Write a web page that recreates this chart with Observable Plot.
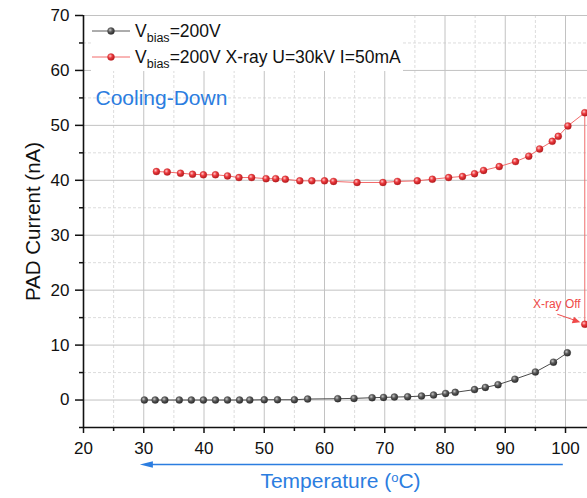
<!DOCTYPE html>
<html><head><meta charset="utf-8">
<script src="https://cdn.jsdelivr.net/npm/d3@7"></script>
<script src="https://cdn.jsdelivr.net/npm/@observablehq/plot@0.6"></script>
<style>html,body{margin:0;padding:0;background:#fff}svg{display:block}</style>
</head><body><div id="chart"></div>
<script>
// ---- data ----
const blackTemp = [30.1, 31.9, 33.5, 35.9, 37.9, 39.9, 41.9, 43.9, 45.9, 47.6, 50.0, 52.2, 55.0,
  57.2, 62.2, 64.9, 67.9, 69.8, 71.6, 73.8, 76.1, 78.1, 80.1, 81.7, 84.9, 86.7, 88.8, 91.6, 95.0, 98.0, 100.3];
const blackCur = [0, 0, 0, 0, 0, 0, 0, 0, 0, 0, 0.05, 0.05, 0.05,
  0.18, 0.24, 0.3, 0.42, 0.48, 0.54, 0.6, 0.72, 0.9, 1.2, 1.4, 1.9, 2.3, 2.8, 3.8, 5.1, 6.9, 8.6];
const redTemp = [32.1, 33.9, 36.1, 38.1, 39.9, 41.9, 43.9, 45.8, 47.9, 50.3, 51.9, 53.5, 55.9, 57.9, 60.0,
  61.5, 65.4, 69.7, 72.1, 75.4, 77.9, 80.6, 82.9, 84.9, 86.4, 89.0, 91.7, 93.9, 95.7, 97.8, 98.8, 100.4, 103.2, 103.2];
const redCur = [41.6, 41.5, 41.3, 41.1, 41.0, 41.0, 40.8, 40.5, 40.5, 40.3, 40.3, 40.2, 39.9, 39.9, 39.9,
  39.8, 39.6, 39.6, 39.8, 39.9, 40.2, 40.5, 40.7, 41.2, 41.8, 42.5, 43.4, 44.4, 45.7, 47.1, 48.0, 49.9, 52.3, 13.8];
const xMajorTicks = [20, 30, 40, 50, 60, 70, 80, 90, 100];
const xMinorTicks = [25, 35, 45, 55, 65, 75, 85, 95];
const yMajorTicks = [0, 10, 20, 30, 40, 50, 60, 70];
const yMinorTicks = [-5, 5, 15, 25, 35, 45, 55, 65];
const legendMain = ["V", "V"];
const legendSub = ["bias", "bias"];
const legendRest = ["=200V", "=200V X-ray U=30kV I=50mA"];
const annotationText = "X-ray Off";
const regimeText = "Cooling-Down";
const xTitleParts = ["Temperature (", "o", "C)"];
const yTitle = "PAD Current (nA)";

const black = blackTemp.map((t, i) => ({t, c: blackCur[i]}));
const red = redTemp.map((t, i) => ({t, c: redCur[i]}));
const lastRed = red[red.length - 1];

const font = "'Liberation Sans', Arial, sans-serif";
const blue = "#2b7de0";
const gridMajor = "#c2c2c2";
const gridMinor = "#dcdcdc";

const plot = Plot.plot({
  width: 587, height: 498,
  marginLeft: 83, marginRight: 0, marginTop: 15, marginBottom: 71,
  style: {fontFamily: font, background: "white", color: "#111"},
  x: {domain: [20, 103.65]},
  y: {domain: [-5, 70]},
  marks: [
    Plot.ruleX(xMinorTicks, {stroke: gridMinor, strokeDasharray: "3,2"}),
    Plot.ruleY(yMinorTicks.filter(v => v > -5), {stroke: gridMinor, strokeDasharray: "3,2"}),
    Plot.ruleX(xMajorTicks.filter(v => v > 20), {stroke: gridMajor}),
    Plot.ruleY(yMajorTicks, {stroke: gridMajor}),
    Plot.line(red, {x: "t", y: "c", stroke: "#f26a6a", strokeWidth: 1}),
    Plot.line(black, {x: "t", y: "c", stroke: "#4a4a4a", strokeWidth: 1}),
    Plot.dot(black, {x: "t", y: "c", r: 3.5, fill: "url(#sphK)", stroke: "#333", strokeWidth: 0.3}),
    Plot.dot(red, {x: "t", y: "c", r: 3.5, fill: "url(#sphR)", stroke: "#b22", strokeWidth: 0.3}),
    Plot.text([lastRed], {x: "t", y: "c", text: () => annotationText, dx: -28, dy: -20, fontSize: 12, fill: "#f04a4a"}),
    Plot.ruleY([-5], {stroke: "#111", strokeWidth: 1.6}),
    Plot.ruleX([20], {stroke: "#111", strokeWidth: 1.6}),
    Plot.axisX(xMajorTicks, {tickSize: 6, tickPadding: 8, fontSize: 17, label: null, strokeWidth: 1.5, stroke: "#111"}),
    Plot.axisX(xMinorTicks, {tickSize: 4, tickFormat: () => "", label: null, strokeWidth: 1.5, stroke: "#111"}),
    Plot.axisY(yMajorTicks, {tickSize: 8, tickPadding: 6, fontSize: 17, label: null, strokeWidth: 1.5, stroke: "#111"}),
    Plot.axisY(yMinorTicks, {tickSize: 4, tickFormat: () => "", label: null, strokeWidth: 1.5, stroke: "#111"}),
    Plot.text([yTitle], {frameAnchor: "left", textAnchor: "middle", dx: -50, rotate: -90, fontSize: 20.5, fill: "#111"}),
    Plot.text([xTitleParts.join("")], {frameAnchor: "bottom", dx: 5, dy: 60, fontSize: 21, fill: blue}),
    Plot.text([regimeText], {frameAnchor: "top-left", dx: 12, dy: 75, textAnchor: "start", fontSize: 21, fill: blue})
  ]
});

document.getElementById("chart").appendChild(plot);

const svg = d3.select(plot);
const xs = plot.scale("x"), ys = plot.scale("y");

// sphere gradients
const defs = svg.insert("defs", ":first-child");
function sphere(id, hi, mid, lo) {
  const g = defs.append("radialGradient").attr("id", id).attr("cx", "38%").attr("cy", "35%").attr("r", "65%");
  g.append("stop").attr("offset", "0%").attr("stop-color", hi);
  g.append("stop").attr("offset", "45%").attr("stop-color", mid);
  g.append("stop").attr("offset", "100%").attr("stop-color", lo);
}
sphere("sphK", "#c8c8c8", "#5c5c5c", "#2c2c2c");
sphere("sphR", "#ffc8c8", "#ec3a3e", "#b51a1e");

// superscript in x title
svg.selectAll("text").filter(function () { return this.textContent === xTitleParts.join(""); })
  .each(function () {
    const t = d3.select(this);
    t.text("");
    t.append("tspan").text(xTitleParts[0]);
    t.append("tspan").attr("dy", "-0.45em").attr("font-size", "0.62em").text(xTitleParts[1]);
    t.append("tspan").attr("dy", "0.28em").text(xTitleParts[2]);
  });

// arrow to the X-ray Off point
const px = xs.apply(lastRed.t), py = ys.apply(lastRed.c);
const arr = svg.append("g").attr("fill", "#f04a4a").attr("stroke", "#f04a4a");
arr.append("line").attr("x1", px - 27).attr("y1", py - 9.5).attr("x2", px - 9).attr("y2", py - 3.3).attr("stroke-width", 1);
arr.append("path").attr("stroke", "none")
  .attr("d", `M${px - 4},${py - 1.6} L${px - 12.5},${py - 0.6} L${px - 10.3},${py - 7}Z`);

// temperature direction arrow (cooling: high -> low)
const [tMin, tMax] = d3.extent(blackTemp);
const ax1 = xs.apply(tMax) - 4, ax2 = xs.apply(tMin) - 4, ay = 464.5;
const ba = svg.append("g");
ba.append("line").attr("x1", ax1).attr("y1", ay).attr("x2", ax2 + 10).attr("y2", ay).attr("stroke", blue).attr("stroke-width", 1.6);
ba.append("path").attr("fill", blue).attr("d", `M${ax2},${ay} L${ax2 + 13},${ay - 3.2} L${ax2 + 13},${ay + 3.2}Z`);

// legend
const lg = svg.append("g").attr("font-family", font).attr("text-anchor", "start");
lg.append("rect").attr("x", 91).attr("y", 16).attr("width", 312).attr("height", 55).attr("fill", "white");
const legendColors = [{line: "#5a5a5a", fill: "url(#sphK)", stroke: "#333"}, {line: "#f26a6a", fill: "url(#sphR)", stroke: "#b22"}];
[31, 57].forEach((y, i) => {
  lg.append("line").attr("x1", 92).attr("x2", 130).attr("y1", y).attr("y2", y).attr("stroke", legendColors[i].line);
  lg.append("circle").attr("cx", 111).attr("cy", y).attr("r", 3.5).attr("fill", legendColors[i].fill)
    .attr("stroke", legendColors[i].stroke).attr("stroke-width", 0.3);
  const t = lg.append("text").attr("x", 135).attr("y", y + 5.5).attr("font-size", 17.5).attr("fill", "#111")
    .attr("text-anchor", "start");
  t.append("tspan").text(legendMain[i]);
  t.append("tspan").attr("dy", 5).attr("font-size", 12.5).text(legendSub[i]);
  t.append("tspan").attr("dy", -5).text(legendRest[i]);
});
</script>
</body></html>
